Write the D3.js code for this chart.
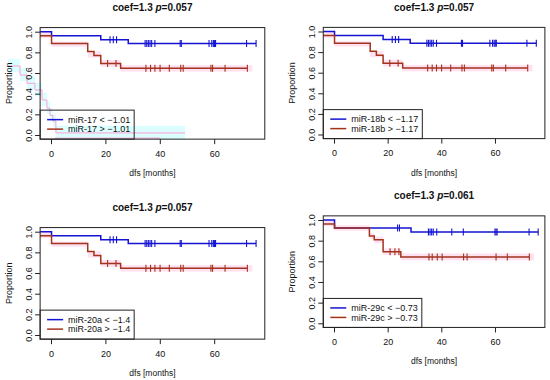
<!DOCTYPE html>
<html>
<head>
<meta charset="utf-8">
<script src="https://cdn.jsdelivr.net/npm/d3@7"></script>
<style>
  body { margin: 0; background: #fff; }
  svg text { font-family: "Liberation Sans", Arial, sans-serif; fill: #111; }
</style>
</head>
<body>
<svg id="chart" width="550" height="380"></svg>
<script>
// ---- data ----
var xTicks = [0, 20, 40, 60];
var yTicks = [0, 0.2, 0.4, 0.6, 0.8, 1.0];
var xDomain = [-4, 78.6];

// miR-17 / miR-18b / miR-20a share the same grouping
var lowA_t = [-4, 0.2, 18.3, 28.4];
var lowA_s = [1.0, 0.962, 0.923, 0.885];
var lowA_end = 75.4;
var lowA_cens_t = [21.7, 22.9, 24.1, 34.6, 35.2, 35.8, 36.4, 37.0, 38.2, 47.5, 47.9, 58.1, 59.1, 59.7, 60.1, 60.5, 71.9, 75.4];

var highA_t = [-4, 0.2, 13.5, 15.8, 18.3, 25.6];
var highA_s = [0.962, 0.885, 0.808, 0.769, 0.692, 0.646];
var highA_lo = [0.94, 0.855, 0.75, 0.75, 0.66, 0.615];
var highA_hi = [1.0, 0.905, 0.81, 0.81, 0.725, 0.675];
var highA_end = 72.2;
var highA_bandEnd = 74;
var highA_cens_t = [20.8, 23.9, 34.9, 36.6, 38.2, 40.1, 43.5, 47.7, 48.6, 58.8, 59.4, 64.0, 72.2];

// miR-29c
var lowB_t = [-4, 0.2, 28.7];
var lowB_s = [1.0, 0.923, 0.885];
var lowB_end = 76.1;
var lowB_cens_t = [23.7, 24.4, 35.2, 35.8, 36.4, 37.0, 38.3, 43.9, 48.2, 60.0, 60.4, 60.8, 72.7, 76.1];

var highB_t = [-4, 0.2, 13.2, 15.0, 18.3, 24.9];
var highB_s = [0.962, 0.923, 0.846, 0.808, 0.692, 0.642];
var highB_lo = [0.94, 0.895, 0.815, 0.775, 0.66, 0.61];
var highB_hi = [1.0, 0.95, 0.875, 0.84, 0.725, 0.675];
var highB_end = 72.8;
var highB_bandEnd = 74.5;
var highB_cens_t = [20.9, 22.7, 24.2, 35.4, 36.6, 38.5, 40.3, 48.3, 49.6, 60.4, 64.6, 72.8];

// stray ghost curve in the first panel
var ghost_t = [-15.8, -11.4, -8.8, -5.9, -3.3, -1.5, -0.4, 0.7, 1.8];
var ghost_s = [0.668, 0.58, 0.50, 0.436, 0.339, 0.26, 0.19, 0.136, 0.02];
var ghost_end = 49.3;
var ghost2_t = [1.5, 40];
var ghost2_s = [-0.03, -0.03];

var panels = [
  { title: "0.057", gene: "miR-17", cut: "1.01", low: "A", x0: 51, k: 2.72, y1: 31.7, y0: 135, ghost: true },
  { title: "0.057", gene: "miR-18b", cut: "1.17", low: "A", x0: 334, k: 2.683, y1: 31.5, y0: 134.5 },
  { title: "0.057", gene: "miR-20a", cut: "1.4", low: "A", x0: 51, k: 2.72, y1: 231.7, y0: 335 },
  { title: "0.061", gene: "miR-29c", cut: "0.73", low: "B", x0: 334, k: 2.683, y1: 220, y0: 323.3 }
];

var series = {
  A: { low: [lowA_t, lowA_s, lowA_end, lowA_cens_t],
       high: [highA_t, highA_s, highA_end, highA_cens_t, highA_lo, highA_hi, highA_bandEnd] },
  B: { low: [lowB_t, lowB_s, lowB_end, lowB_cens_t],
       high: [highB_t, highB_s, highB_end, highB_cens_t, highB_lo, highB_hi, highB_bandEnd] }
};

var blue = "#1414d2", red = "#a3341c", pink = "#ff9fd6";
var svg = d3.select("#chart");

function stepPoints(t, s, end) {
  var pts = t.map(function(d, i){ return [d, s[i]]; });
  pts.push([end, s[s.length - 1]]);
  return pts;
}
// survival value at time tt
function survAt(t, s, tt) {
  var v = s[0];
  t.forEach(function(d, i){ if (d <= tt) v = s[i]; });
  return v;
}

panels.forEach(function(p){
  var left = p.x0 + xDomain[0] * p.k, right = p.x0 + xDomain[1] * p.k;
  var h = p.y0 - p.y1;
  var x = d3.scaleLinear().domain(xDomain).range([left, right]);
  var y = d3.scaleLinear().domain([-0.04, 1.04]).range([p.y0 + 0.04 * h, p.y1 - 0.04 * h]);
  var top = y.range()[1], bottom = y.range()[0];
  var g = svg.append("g");
  var line = d3.line().x(function(d){ return x(d[0]); }).y(function(d){ return y(d[1]); }).curve(d3.curveStepAfter);

  if (p.ghost) {
    var gp = stepPoints(ghost_t, ghost_s, ghost_end);
    g.append("path").datum(gp)
      .attr("d", d3.area().x(function(d){ return x(d[0]); })
        .y0(function(d){ return y(d[1] - 0.06); }).y1(function(d){ return y(d[1] + 0.07); })
        .curve(d3.curveStepAfter))
      .attr("fill", "#d2ffff").attr("opacity", 0.8);
    g.append("path").datum(gp).attr("d", line)
      .attr("fill", "none").attr("stroke", pink).attr("stroke-width", 1);
    g.append("path").datum(ghost2_t.map(function(d, i){ return [d, ghost2_s[i]]; })).attr("d", line)
      .attr("fill", "none").attr("stroke", pink).attr("stroke-width", 1);
  }

  var lo = series[p.low].low, hi = series[p.low].high;

  // confidence band of the high group
  var bandPts = hi[0].map(function(d, i){ return [d, hi[4][i], hi[5][i]]; });
  bandPts.push([hi[6], hi[4][hi[4].length - 1], hi[5][hi[5].length - 1]]);
  g.append("path").datum(bandPts)
    .attr("d", d3.area().x(function(d){ return x(d[0]); })
      .y0(function(d){ return y(d[1]); }).y1(function(d){ return y(d[2]); })
      .curve(d3.curveStepAfter))
    .attr("fill", "#ffdcf0").attr("opacity", 0.85);

  [[lo, blue], [hi, red]].forEach(function(sr){
    var d = sr[0], col = sr[1];
    g.append("path").datum(stepPoints(d[0], d[1], d[2])).attr("d", line)
      .attr("fill", "none").attr("stroke", col).attr("stroke-width", 1.5);
    g.selectAll(null).data(d[3]).enter().append("line")
      .attr("x1", function(c){ return x(c); }).attr("x2", function(c){ return x(c); })
      .attr("y1", function(c){ return y(survAt(d[0], d[1], c)) - 3.5; })
      .attr("y2", function(c){ return y(survAt(d[0], d[1], c)) + 3.5; })
      .attr("stroke", col).attr("stroke-width", 1.1);
  });

  // box
  g.append("rect").attr("x", left).attr("y", top).attr("width", right - left).attr("height", bottom - top)
    .attr("fill", "none").attr("stroke", "#222").attr("stroke-width", 1);

  // axes
  var ax = g.append("g").attr("transform", "translate(0," + bottom + ")")
    .call(d3.axisBottom(x).tickValues(xTicks).tickSize(5).tickPadding(6).tickFormat(d3.format("d")));
  ax.select(".domain").remove();
  ax.selectAll("line").attr("stroke", "#222");
  ax.selectAll("text").attr("font-size", 9).style("fill", "#111");

  var ay = g.append("g").attr("transform", "translate(" + left + ",0)")
    .call(d3.axisLeft(y).tickValues(yTicks).tickSize(5).tickFormat(d3.format(".1f")));
  ay.select(".domain").remove();
  ay.selectAll("line").attr("stroke", "#222");
  ay.selectAll("text").attr("font-size", 9).style("fill", "#111")
    .attr("x", null).attr("dy", null)
    .attr("text-anchor", "middle")
    .attr("transform", "translate(-8.5,0) rotate(-90)");

  // labels
  g.append("text").attr("x", (left + right) / 2).attr("y", bottom + 37)
    .attr("text-anchor", "middle").attr("font-size", 8.5).text("dfs [months]");
  g.append("text").attr("transform", "translate(" + (left - 28.5) + "," + ((top + bottom) / 2) + ") rotate(-90)")
    .attr("text-anchor", "middle").attr("font-size", 9).text("Proportion");
  var tt = g.append("text").attr("x", (left + right) / 2).attr("y", top - 16.5)
    .attr("text-anchor", "middle").attr("font-size", 10).attr("font-weight", "bold");
  tt.append("tspan").text("coef=1.3 ");
  tt.append("tspan").attr("font-style", "italic").text("p");
  tt.append("tspan").text("=" + p.title);

  // legend
  var lg = g.append("g");
  var labels = [p.gene + " < \u2212" + p.cut, p.gene + " > \u2212" + p.cut];
  var wmax = 0;
  labels.forEach(function(l, i){
    var ry = bottom - 19.5 + i * 9.5;
    lg.append("line").attr("x1", left + 7).attr("x2", left + 23).attr("y1", ry).attr("y2", ry)
      .attr("stroke", i ? red : blue).attr("stroke-width", 1.5);
    var t = lg.append("text").attr("x", left + 28).attr("y", ry + 3.2).attr("font-size", 9).text(l);
    wmax = Math.max(wmax, t.node().getComputedTextLength());
  });
  lg.insert("rect", ":first-child").attr("x", left).attr("y", bottom - 29)
    .attr("width", 28 + wmax + 4).attr("height", 29)
    .attr("fill", "none").attr("stroke", "#222").attr("stroke-width", 1);
});
</script>
</body>
</html>
